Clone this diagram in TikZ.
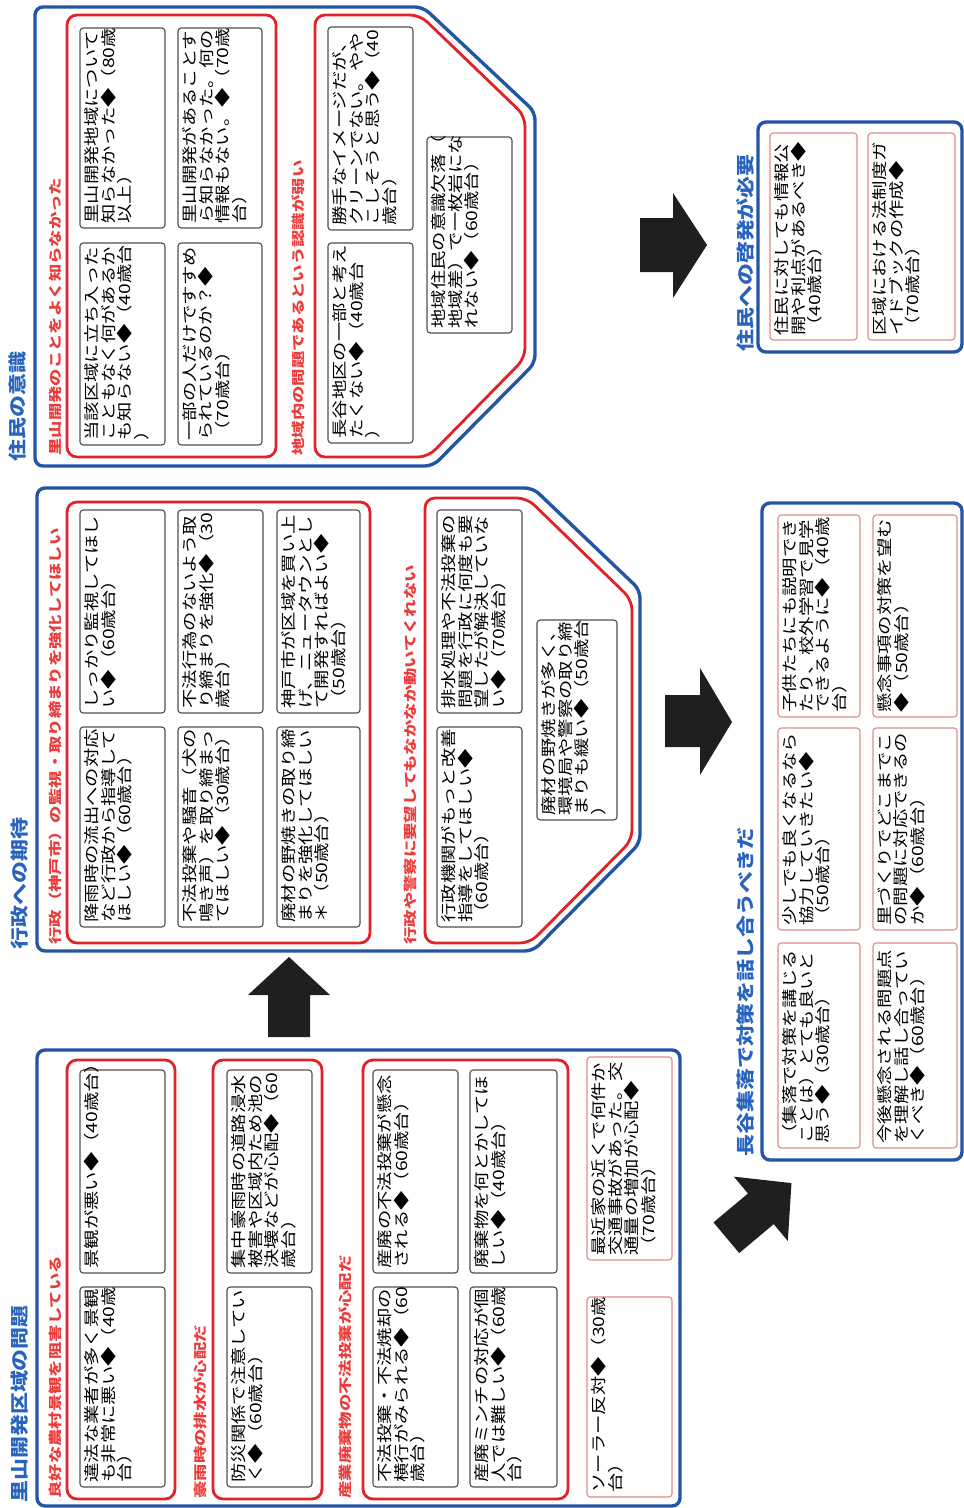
\documentclass[tikz,border=0pt]{standalone}
\usepackage{fontspec}
\setmainfont{Noto Sans CJK JP}
\usepackage{tikz}
\usetikzlibrary{calc}
\definecolor{cblue}{RGB}{35,85,165}
\definecolor{ctitle}{RGB}{40,100,190}
\definecolor{cred}{RGB}{225,35,40}
\definecolor{clabel}{RGB}{235,60,60}
\definecolor{cgray}{RGB}{80,80,80}
\definecolor{cpink}{RGB}{225,140,140}

% comment box: name, x1, y1, x2, y2, box style, text
\newcommand{\cmtbox}[7]{%
  \draw[#6] (#2,#3) rectangle (#4,#5);
  \node[boxtext] (#1) at (#2+4,#5-4) {#7};
}

\begin{document}
\begin{tikzpicture}[x=0.025cm, y=-0.025cm,
  panelline/.style={draw=cblue, line width=2.4pt, rounded corners=0.2cm},
  groupline/.style={draw=cred, line width=2pt, rounded corners=0.25cm},
  cbox/.style={draw=cgray, line width=0.8pt, rounded corners=0.08cm},
  pbox/.style={draw=cpink, line width=0.8pt, rounded corners=0.08cm},
  boxtext/.style={rotate=90, xscale=1.25, anchor=north west, align=left,
    inner sep=0pt, font=\fontsize{11}{11.9}\selectfont},
  grouplabel/.style={rotate=90, xscale=1.3, anchor=west, inner sep=0pt,
    text=clabel, font=\fontsize{9.5}{10}\selectfont\bfseries},
  paneltitle/.style={rotate=90, xscale=1.2, anchor=west, inner sep=0pt,
    text=ctitle, font=\fontsize{13}{14}\selectfont\bfseries},
  blockarrow/.style={fill=black!88}]

\useasboundingbox (0,0) rectangle (964,1508);
\clip (0,0) rectangle (964,1508);

%% ---------------- 住民の意識 ----------------
\draw[panelline] (35,466) -- (35,7) -- (423,7) -- (535,112) -- (535,363) -- (433,466) -- cycle;
\node[paneltitle] (t1) at (18,462) {住民の意識};

\draw[groupline] (67,15) rectangle (276,457);
\node[grouplabel] (g1) at (55,456) {里山開発のことをよく知らなかった};
\cmtbox{a1}{80}{28}{165}{228}{cbox}{里山開発地域について\\知らなかった◆（80歳\\以上）}
\cmtbox{a2}{80}{243}{165}{445}{cbox}{当該区域に立ち入った\\こともなく何があるか\\も知らない◆（40歳台\\）}
\cmtbox{a3}{178}{28}{262}{228}{cbox}{里山開発があることす\\ら知らなかった。何の\\情報もない。◆（70歳\\台）}
\cmtbox{a4}{178}{243}{262}{445}{cbox}{一部の人だけですすめ\\られているのか？◆\\（70歳台）}

\draw[groupline] (315,15) -- (420,15) -- (525,116) -- (525,358) -- (428,457) -- (315,457) -- cycle;
\node[grouplabel] (g2) at (298,456) {地域内の問題であるという認識が弱い};
\cmtbox{b1}{328}{27}{413}{230}{cbox}{勝手なイメージだが、\\クリーンでない。やや\\こしそうと思う◆（40\\歳台）}
\cmtbox{b2}{328}{243}{413}{443}{cbox}{長谷地区の一部と考え\\たくない◆（40歳台\\）}
\cmtbox{b3}{427}{137}{512}{333}{cbox}{地域住民の意識欠落（\\地域差）で一枚岩にな\\れない◆（60歳台）}

%% ---------------- 住民への啓発が必要 ----------------
\draw[panelline] (758,122) rectangle (962,352);
\node[paneltitle] (t2) at (745,352) {住民への啓発が必要};
\cmtbox{c1}{770}{133}{857}{340}{pbox}{住民に対しても情報公\\開や利点があるべき◆\\（40歳台）}
\cmtbox{c2}{868}{133}{955}{340}{pbox}{区域における法制度ガ\\イドブックの作成◆\\（70歳台）}

\fill[blockarrow] (640,218) -- (673,218) -- (673,193) -- (707,245) -- (673,298) -- (673,272) -- (640,272) -- cycle;

%% ---------------- 行政への期待 ----------------
\draw[panelline] (37,951) -- (37,488) -- (533,488) -- (640,590) -- (640,843) -- (533,951) -- cycle;
\node[paneltitle] (t3) at (20,950) {行政への期待};

\draw[groupline] (67,502) rectangle (370,943);
\node[grouplabel] (g3) at (55,945) {行政（神戸市）の監視・取り締まりを強化してほしい};
\cmtbox{d1}{80}{510}{165}{713}{cbox}{しっかり監視してほし\\い◆（60歳台）}
\cmtbox{d2}{80}{727}{165}{927}{cbox}{降雨時の流出への対応\\など行政から指導して\\ほしい◆（60歳台）}
\cmtbox{d3}{178}{510}{263}{713}{cbox}{不法行為のないよう取\\り締まりを強化◆（30\\歳台）}
\cmtbox{d4}{178}{727}{263}{927}{cbox}{不法投棄や騒音（犬の\\鳴き声）を取り締まっ\\てほしい◆（30歳台）}
\cmtbox{d5}{277}{510}{360}{713}{cbox}{神戸市が区域を買い上\\げ、ニュータウンとし\\て開発すればよい◆\\（50歳台）}
\cmtbox{d6}{277}{727}{360}{927}{cbox}{廃材の野焼きの取り締\\まりを強化してほしい\\＊（50歳台）}

\draw[groupline] (425,498) -- (527,498) -- (632,600) -- (632,840) -- (530,943) -- (425,943) -- cycle;
\node[grouplabel] (g4) at (410,945) {行政や警察に要望してもなかなか動いてくれない};
\cmtbox{e1}{437}{510}{522}{713}{cbox}{排水処理や不法投棄の\\問題を行政に何度も要\\望したが解決していな\\い◆（70歳台）}
\cmtbox{e2}{437}{727}{522}{927}{cbox}{行政機関がもっと改善\\指導をしてほしい◆\\（60歳台）}
\cmtbox{e3}{537}{620}{617}{820}{cbox}{廃材の野焼きが多く、\\環境局や警察の取り締\\まりも緩い◆（50歳台\\）}

\fill[blockarrow] (665,695) -- (700,695) -- (700,668) -- (732,722) -- (700,775) -- (700,747) -- (665,747) -- cycle;

%% ---------------- 長谷集落で対策を話し合うべきだ ----------------
\draw[panelline] (762,503) rectangle (962,1160);
\node[paneltitle] (t4) at (745,1157) {長谷集落で対策を話し合うべきだ};
\cmtbox{f1}{778}{515}{860}{717}{pbox}{子供たちにも説明でき\\たり、校外学習で見学\\できるように◆（40歳\\台）}
\cmtbox{f2}{873}{515}{957}{717}{pbox}{懸念事項の対策を望む\\◆（50歳台）}
\cmtbox{f3}{778}{728}{860}{930}{pbox}{少しでも良くなるなら\\協力していきたい◆\\（50歳台）}
\cmtbox{f4}{873}{728}{957}{930}{pbox}{里づくりでどこまでこ\\の問題に対応できるの\\か◆（60歳台）}
\cmtbox{f5}{778}{943}{860}{1148}{pbox}{（集落で対策を講じる\\ことは）とても良いと\\思う◆（30歳台）}
\cmtbox{f6}{873}{943}{957}{1148}{pbox}{今後懸念される問題点\\を理解し話し合ってい\\くべき◆（60歳台）}

%% ---------------- 里山開発区域の問題 ----------------
\draw[panelline] (37,1050) rectangle (680,1506);
\node[paneltitle] (t5) at (20,1503) {里山開発区域の問題};

\draw[groupline] (67,1060) rectangle (175,1499);
\node[grouplabel] (g5) at (55,1499) {良好な農村景観を阻害している};
\cmtbox{h1}{80}{1070}{165}{1273}{cbox}{景観が悪い◆（40歳台）}
\cmtbox{h2}{80}{1287}{165}{1487}{cbox}{違法な業者が多く景観\\も非常に悪い◆（40歳\\台）}

\draw[groupline] (213,1060) rectangle (322,1499);
\node[grouplabel] (g6) at (200,1499) {豪雨時の排水が心配だ};
\cmtbox{i1}{227}{1070}{312}{1273}{cbox}{集中豪雨時の道路浸水\\被害や区域内ため池の\\決壊などが心配◆（60\\歳台）}
\cmtbox{i2}{227}{1287}{312}{1487}{cbox}{防災関係で注意してい\\く◆（60歳台）}

\draw[groupline] (363,1060) rectangle (568,1499);
\node[grouplabel] (g7) at (345,1499) {産業廃棄物の不法投棄が心配だ};
\cmtbox{j1}{373}{1070}{458}{1273}{cbox}{産廃の不法投棄が懸念\\される◆（60歳台）}
\cmtbox{j2}{373}{1287}{458}{1487}{cbox}{不法投棄・不法焼却の\\横行がみられる◆（60\\歳台）}
\cmtbox{j3}{470}{1070}{557}{1273}{cbox}{廃棄物を何とかしてほ\\しい◆（40歳台）}
\cmtbox{j4}{470}{1287}{557}{1487}{cbox}{産廃ミンチの対応が個\\人では難しい◆（60歳\\台）}

\cmtbox{k1}{587}{1057}{672}{1260}{pbox}{最近家の近くで何件か\\交通事故があった。交\\通量の増加が心配◆\\（70歳台）}
\cmtbox{k2}{587}{1297}{672}{1497}{pbox}{ソーラー反対◆（30歳\\台）}

%% block arrows out of this panel
\fill[blockarrow] (268,1037) -- (268,995) -- (248,995) -- (289,957) -- (330,995) -- (310,995) -- (310,1037) -- cycle;
\begin{scope}[shift={(757,1212)}, rotate=40]
  \fill[blockarrow] (-40,-20) -- (5,-20) -- (5,-42) -- (45,0) -- (5,42) -- (5,20) -- (-40,20) -- cycle;
\end{scope}

\end{tikzpicture}
\end{document}
